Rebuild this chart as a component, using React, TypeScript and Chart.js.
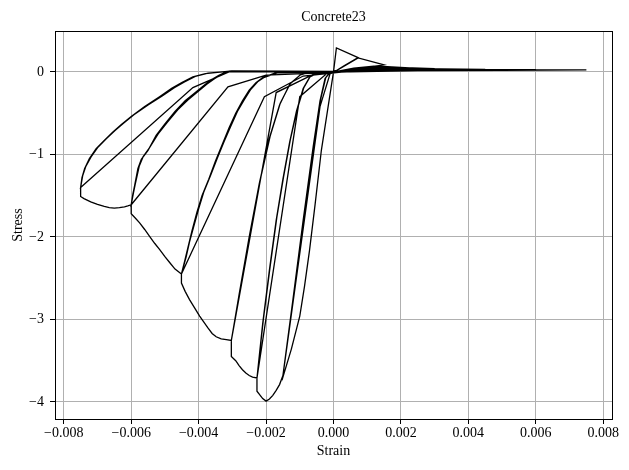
import { useEffect, useRef } from "react";
import { Chart, registerables } from "chart.js";

Chart.register(...registerables);

// ---- axis settings / tick labels ----
const xMin = -0.00826;
const xMax = 0.00826;
const yMin = -4.207;
const yMax = 0.496;
const xTickValues = [-0.008, -0.006, -0.004, -0.002, 0, 0.002, 0.004, 0.006, 0.008];
const xTickLabels = ["\u22120.008", "\u22120.006", "\u22120.004", "\u22120.002", "0.000", "0.002", "0.004", "0.006", "0.008"];
const yTickValues = [-4, -3, -2, -1, 0];
const yTickLabels = ["\u22124", "\u22123", "\u22122", "\u22121", "0"];

// ---- compression strain levels and stresses ----
const levelStrain = [-0.0015, -0.00227, -0.00303, -0.00451, -0.006, -0.0075];
const firstPeakStress = [-3.7, -3.87, -3.45, -2.56, -1.72, -1.51];
const degradedStress = [-3.68, -3.71, -3.255, -2.45, -1.61, -1.4];

// initial tension excursion [strain, stress]
const initialTension = [
  [0, 0], [0.000086, 0.29], [0.00073, 0.174], [0.0003, 0.07], [0.00003, 0],
];

// envelope pieces leading to each compression level
const envelopeToLevel = [
  [[0, 0], [-0.00036, -0.95], [-0.00055, -1.62], [-0.00071, -2.16], [-0.00086, -2.6], [-0.001, -2.96], [-0.00125, -3.36]],
  [[-0.0016, -3.79], [-0.0017, -3.86], [-0.0018, -3.92], [-0.0019, -3.965], [-0.002, -3.99], [-0.0021, -3.96]],
  [[-0.0024, -3.7], [-0.0025, -3.68], [-0.0026, -3.65], [-0.0027, -3.61], [-0.0028, -3.56], [-0.0029, -3.5]],
  [[-0.00318, -3.245], [-0.00333, -3.235], [-0.00348, -3.21], [-0.0036, -3.17], [-0.00373, -3.1], [-0.00385, -3.03], [-0.00397, -2.96], [-0.00412, -2.86], [-0.00427, -2.76], [-0.0044, -2.66]],
  [[-0.0047, -2.39], [-0.00486, -2.31], [-0.005, -2.24], [-0.00516, -2.15], [-0.0053, -2.08], [-0.00546, -1.99], [-0.0056, -1.91], [-0.00575, -1.83], [-0.00588, -1.77]],
  [[-0.0061, -1.625], [-0.0062, -1.635], [-0.00635, -1.645], [-0.0065, -1.65], [-0.00665, -1.645], [-0.0068, -1.63], [-0.007, -1.605], [-0.0072, -1.575], [-0.0074, -1.535]],
];

// first unloading curve of each level
const unloadFirst = [
  [[-0.0012, -2.75], [-0.0009, -1.8], [-0.0006, -0.9], [-0.0004, -0.35], [-0.00025, -0.08], [-0.0001, 0]],
  [[-0.0021, -3.05], [-0.0019, -2.4], [-0.0017, -1.8], [-0.0015, -1.3], [-0.0013, -0.85], [-0.0011, -0.48], [-0.0009, -0.2], [-0.0007, -0.06], [-0.0004, 0]],
  [[-0.0028, -2.7], [-0.0025, -2.0], [-0.0022, -1.35], [-0.0019, -0.8], [-0.0016, -0.4], [-0.0013, -0.15], [-0.001, -0.04], [-0.0007, 0]],
  [[-0.0044, -2.27], [-0.0043, -2.1], [-0.0042, -1.93], [-0.00405, -1.7], [-0.0039, -1.5], [-0.0037, -1.3], [-0.0035, -1.08], [-0.0033, -0.88], [-0.0031, -0.68], [-0.0029, -0.5], [-0.0027, -0.35], [-0.0025, -0.22], [-0.0023, -0.13], [-0.0021, -0.07], [-0.0017, -0.01]],
  [[-0.00595, -1.48], [-0.0059, -1.38], [-0.0058, -1.17], [-0.0057, -1.06], [-0.0055, -0.95], [-0.00526, -0.77], [-0.005, -0.63], [-0.0047, -0.48], [-0.0044, -0.35], [-0.00407, -0.24], [-0.0038, -0.15], [-0.0036, -0.09], [-0.0034, -0.04], [-0.00318, 0]],
  [[-0.00746, -1.28], [-0.00738, -1.17], [-0.00724, -1.05], [-0.00704, -0.93], [-0.0068, -0.83], [-0.00655, -0.73], [-0.0063, -0.64], [-0.006, -0.54], [-0.0056, -0.42], [-0.00516, -0.3], [-0.0048, -0.2], [-0.0045, -0.13], [-0.00417, -0.06], [-0.0038, -0.02], [-0.00308, 0.01]],
];

// second unloading curve of each level
const unloadSecond = [
  [[-0.00118, -2.7], [-0.00088, -1.75], [-0.00058, -0.88], [-0.00038, -0.33], [-0.00023, -0.07], [-0.00008, 0]],
  [[-0.00208, -3.0], [-0.00188, -2.36], [-0.00168, -1.76], [-0.00148, -1.27], [-0.00128, -0.82], [-0.00108, -0.46], [-0.00088, -0.19], [-0.00068, -0.05], [-0.00038, 0]],
  [[-0.00278, -2.66], [-0.00248, -1.96], [-0.00218, -1.32], [-0.00188, -0.78], [-0.00158, -0.38], [-0.00128, -0.14], [-0.00098, -0.035], [-0.00068, 0]],
  [[-0.00437, -2.24], [-0.00427, -2.06], [-0.00415, -1.88], [-0.004, -1.66], [-0.00385, -1.46], [-0.00365, -1.26], [-0.00345, -1.05], [-0.00325, -0.85], [-0.00305, -0.66], [-0.00285, -0.48], [-0.00265, -0.34], [-0.00245, -0.21], [-0.00225, -0.12], [-0.00205, -0.065], [-0.00165, -0.01]],
  [[-0.00593, -1.46], [-0.00588, -1.36], [-0.00576, -1.14], [-0.00565, -1.03], [-0.00546, -0.92], [-0.0052, -0.75], [-0.00493, -0.61], [-0.00462, -0.46], [-0.00432, -0.34], [-0.004, -0.23], [-0.00375, -0.145], [-0.00354, -0.085], [-0.00334, -0.035], [-0.00312, 0]],
  [[-0.00744, -1.26], [-0.00735, -1.15], [-0.00719, -1.03], [-0.00698, -0.91], [-0.00674, -0.81], [-0.00648, -0.71], [-0.00622, -0.62], [-0.00592, -0.52], [-0.0055, -0.4], [-0.00508, -0.29], [-0.00472, -0.19], [-0.00442, -0.12], [-0.0041, -0.055], [-0.00372, -0.015], [-0.00302, 0.01]],
];

// reloading lines (start near zero, end at the level's degraded point)
const reloadLine = [
  [[-0.0001, -0.02], [-0.0004, -0.42]],
  [[-0.0002, -0.02], [-0.001, -0.3]],
  [[-0.0006, -0.03], [-0.0017, -0.25]],
  [[-0.0009, -0.05], [-0.00205, -0.3]],
  [[-0.002, -0.04], [-0.00313, -0.18]],
  [[-0.0031, 0.0], [-0.00417, -0.19]],
];

// tension excursions
const tensionOut = [
  [[0.0001, 0.02], [0.00073, 0.17], [0.0015, 0.085]],
  [[0.0001, 0.005], [0.0006, 0.045], [0.0012, 0.07], [0.0016, 0.065], [0.00225, 0.05]],
  [[0.0001, 0.005], [0.0007, 0.04], [0.0013, 0.06], [0.0019, 0.055], [0.003, 0.04]],
  [[0.0001, 0.005], [0.0008, 0.035], [0.0015, 0.05], [0.0025, 0.04], [0.0045, 0.032]],
  [[0.0001, 0.005], [0.0009, 0.03], [0.0017, 0.04], [0.003, 0.033], [0.006, 0.027]],
  [[0.0001, 0.005], [0.001, 0.025], [0.002, 0.035], [0.004, 0.03], [0.0075, 0.025]],
];
const tensionBack = [
  [[0.0009, 0.045], [0.0004, 0.015], [0.0001, 0]],
  [[0.0015, 0.035], [0.0008, 0.015], [0.0002, 0]],
  [[0.002, 0.03], [0.001, 0.012], [0.0002, 0]],
  [[0.003, 0.025], [0.0015, 0.015], [0.0003, 0]],
  [[0.004, 0.022], [0.002, 0.015], [0.0004, 0]],
  [[0.005, 0.02], [0.0025, 0.015], [0.0005, 0]],
];

function buildPath(): { x: number; y: number }[] {
  const pts: number[][] = [...initialTension];
  const n = levelStrain.length;
  for (let k = 0; k < n; k++) {
    const a = levelStrain[k];
    pts.push(...envelopeToLevel[k]);
    pts.push([a, firstPeakStress[k]], [a, degradedStress[k]]);
    pts.push(...unloadFirst[k]);
    pts.push(...tensionOut[k], ...tensionBack[k]);
    pts.push(...reloadLine[k], [a, degradedStress[k]]);
    pts.push(...unloadSecond[k]);
    pts.push(...tensionOut[k]);
    if (k < n - 1) {
      pts.push(...tensionBack[k], ...reloadLine[k], [a, degradedStress[k]]);
    }
  }
  return pts.map(([x, y]) => ({ x, y }));
}

const FONT_FAMILY = '"Liberation Serif", "DejaVu Serif", serif';

const framePlugin = {
  id: "frameBox",
  afterDraw(chart: any) {
    const { ctx, chartArea } = chart;
    const l = Math.floor(chartArea.left);
    const t = Math.floor(chartArea.top);
    const r = Math.floor(chartArea.right);
    const b = Math.floor(chartArea.bottom);
    ctx.save();
    ctx.strokeStyle = "#000";
    ctx.lineWidth = 1;
    ctx.strokeRect(l + 0.5, t + 0.5, r - l, b - t);
    ctx.restore();
  },
};

const titlePlugin = {
  id: "axesTitle",
  afterDraw(chart: any) {
    const { ctx, chartArea } = chart;
    ctx.save();
    ctx.fillStyle = "#000";
    ctx.font = `14px ${FONT_FAMILY}`;
    ctx.textAlign = "center";
    ctx.textBaseline = "alphabetic";
    ctx.fillText("Concrete23", (chartArea.left + chartArea.right) / 2, 20.5);
    ctx.restore();
  },
};

export default function App() {
  const ref = useRef<HTMLCanvasElement>(null);
  useEffect(() => {
    if (!ref.current) return;
    const font = { family: FONT_FAMILY, size: 14, weight: "normal" as const };
    const chart = new Chart(ref.current, {
      type: "scatter",
      data: {
        datasets: [
          {
            data: buildPath(),
            showLine: true,
            borderColor: "#000",
            borderWidth: 1.3,
            pointRadius: 0,
            pointHoverRadius: 0,
            fill: false,
            tension: 0,
          },
        ],
      },
      options: {
        responsive: false,
        animation: false,
        devicePixelRatio: 1,
        layout: { padding: { top: 31, right: 17, left: 0, bottom: 0 } },
        plugins: {
          legend: { display: false },
          tooltip: { enabled: false },
          title: { display: false },
        },
        events: [],
        scales: {
          x: {
            type: "linear",
            min: xMin,
            max: xMax,
            afterBuildTicks: (s: any) => {
              s.ticks = xTickValues.map((v) => ({ value: v }));
            },
            afterFit: (s: any) => {
              s.height = 51;
            },
            ticks: {
              callback: (_v: any, i: number) => xTickLabels[i],
              font,
              color: "#000",
              padding: 1,
              maxRotation: 0,
              autoSkip: false,
            },
            grid: { color: "#b0b0b0", lineWidth: 1, tickColor: "#000", tickLength: 5 },
            border: { display: false },
            title: {
              display: true,
              text: "Strain",
              font,
              color: "#000",
              padding: { top: 0, bottom: 10.6 },
            },
          },
          y: {
            type: "linear",
            min: yMin,
            max: yMax,
            afterBuildTicks: (s: any) => {
              s.ticks = yTickValues.map((v) => ({ value: v }));
            },
            afterFit: (s: any) => {
              s.width = 55;
            },
            ticks: {
              callback: (_v: any, i: number) => yTickLabels[i],
              font,
              color: "#000",
              padding: 6,
              autoSkip: false,
            },
            grid: { color: "#b0b0b0", lineWidth: 1, tickColor: "#000", tickLength: 5 },
            border: { display: false },
            title: {
              display: true,
              text: "Stress",
              font,
              color: "#000",
              padding: { top: 10, bottom: 0 },
            },
          },
        },
      },
      plugins: [framePlugin, titlePlugin],
    });
    return () => chart.destroy();
  }, []);
  return (
    <div style={{ position: "fixed", left: 0, top: 0, width: 629, height: 470, background: "#fff" }}>
      <canvas ref={ref} width={629} height={470} style={{ display: "block" }} />
    </div>
  );
}
